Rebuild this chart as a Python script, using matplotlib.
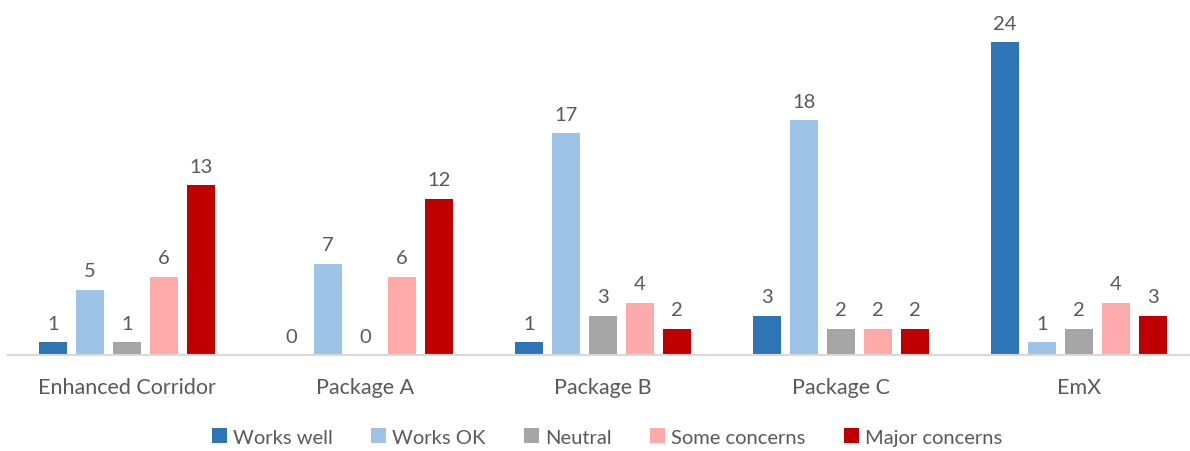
import numpy as np
import matplotlib.pyplot as plt

groups = ['Enhanced Corridor', 'Package A', 'Package B', 'Package C', 'EmX']
series = ['Works well', 'Works OK', 'Neutral', 'Some concerns', 'Major concerns']
works_well = [1, 0, 1, 3, 24]
works_ok = [5, 7, 17, 18, 1]
neutral = [1, 0, 3, 2, 2]
some_concerns = [6, 6, 4, 2, 4]
major_concerns = [13, 12, 2, 2, 3]
colors = ['#2E75B6', '#9DC3E6', '#A5A5A5', '#FFAAAA', '#C00000']

plt.rcParams['font.family'] = ['Lato', 'DejaVu Sans']
txt = '#595959'

fig = plt.figure(figsize=(11.9, 4.52), dpi=100)
ax = fig.add_axes([8 / 1190, 1 - 356 / 452, 1 - 8 / 1190, 346 / 452])

x = np.arange(len(groups))
slot = 37 / 238
w = 28 / 238
data = [works_well, works_ok, neutral, some_concerns, major_concerns]
for i, (name, vals) in enumerate(zip(series, data)):
    pos = x + (i - 2) * slot
    ax.bar(pos, vals, w, color=colors[i], label=name)
    for p, v in zip(pos, vals):
        ax.text(p, v + 0.8, str(v), ha='center', va='bottom', fontsize=14.5, color=txt)

ax.set_xlim(-0.5, 4.5 - 8 / 238)
ax.set_ylim(0, 346 / 13.04)
ax.set_yticks([])
ax.set_xticks(x)
ax.set_xticklabels(groups, fontsize=15.5, color=txt)
ax.tick_params(axis='x', length=0, pad=16)
for s in ['top', 'right', 'left']:
    ax.spines[s].set_visible(False)
ax.spines['bottom'].set_color('#D9D9D9')
ax.spines['bottom'].set_linewidth(1.5)

fig.legend(loc='center', bbox_to_anchor=(607 / 1190, 1 - 438 / 452), ncol=5, frameon=False,
           fontsize=14.5, handlelength=0.75, handleheight=0.75, handletextpad=0.3,
           columnspacing=1.9, labelcolor=txt)

fig.savefig('out.png', dpi=100)
